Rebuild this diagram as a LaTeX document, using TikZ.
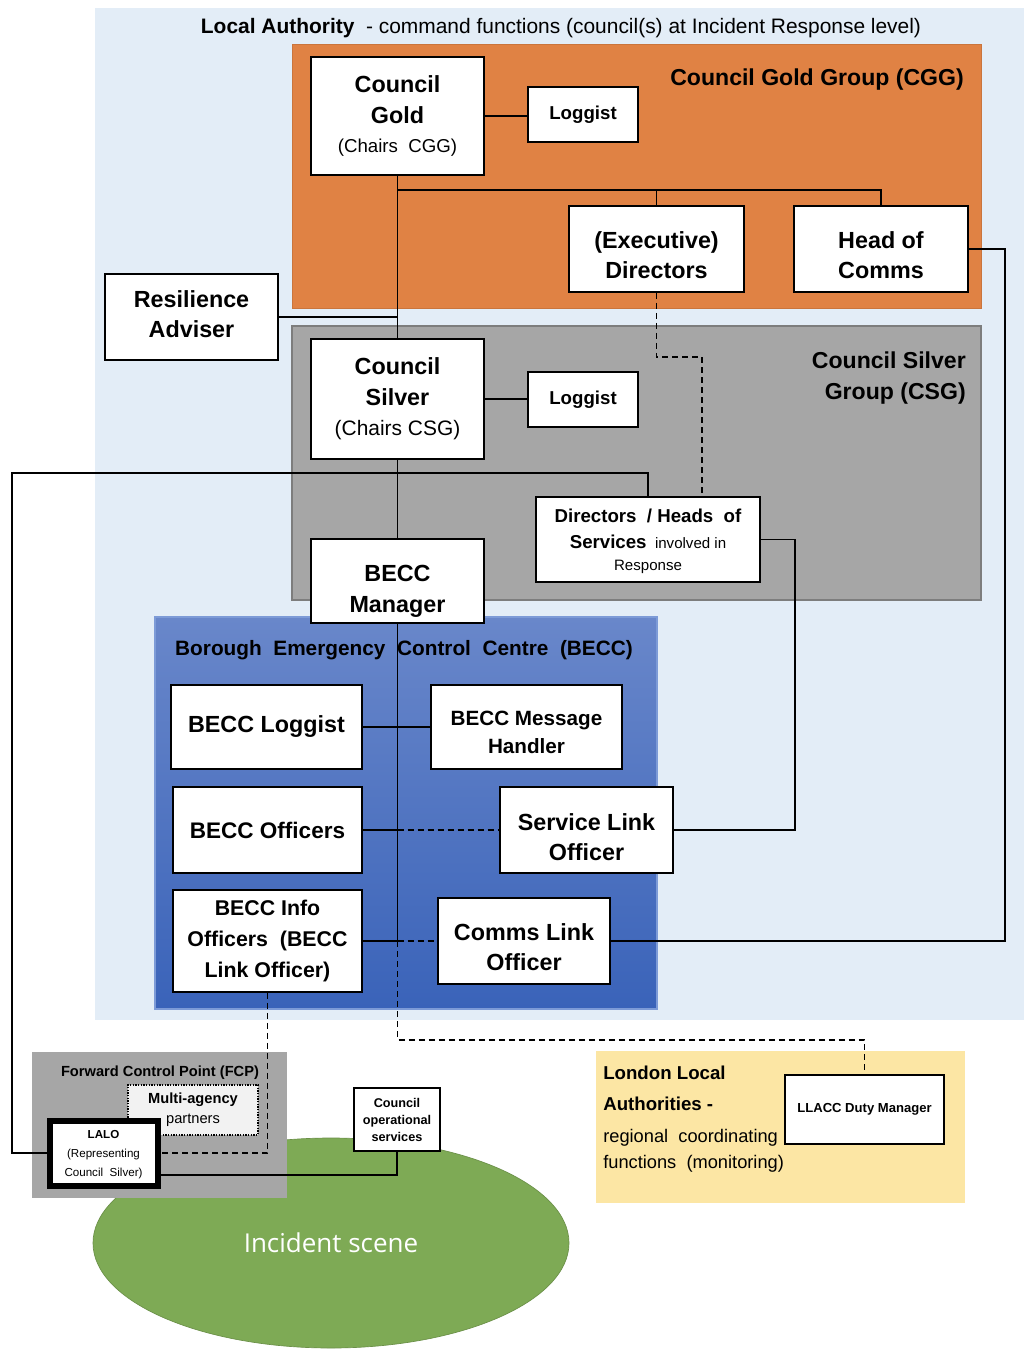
\documentclass[tikz,border=0pt]{standalone}
\usepackage{fontspec}
\setmainfont{Liberation Sans}
\newfontfamily\scenefont{Open Sans}
\usetikzlibrary{shapes.geometric}
\definecolor{labg}{RGB}{227,237,247}
\definecolor{cggc}{RGB}{224,130,68}
\definecolor{csgc}{RGB}{166,166,166}
\definecolor{becct}{RGB}{105,135,202}
\definecolor{beccb}{RGB}{58,99,185}
\definecolor{beccl}{RGB}{125,155,215}
\definecolor{scenec}{RGB}{126,170,85}
\definecolor{llbg}{RGB}{252,230,164}
\definecolor{multibg}{RGB}{242,242,242}
\newcommand\tpad[1]{\rule{0pt}{#1}}
\newcommand\bpad[1]{\rule[-#1]{0pt}{#1}}
\begin{document}
\begin{tikzpicture}[x=0.75pt,y=-0.75pt,
 bx/.style={draw=black, line width=1.3pt, fill=white, align=center, inner sep=0pt},
 wh/.style 2 args={minimum width=#1*0.75pt, minimum height=#2*0.75pt},
 big/.style={font=\bfseries\fontsize{17.5}{23}\selectfont},
 ln/.style={draw=black, line width=1.1pt},
 dl/.style={ln, dash pattern=on 4.5pt off 3pt},
 lbl/.style={inner sep=0pt},
]
\useasboundingbox (0,0) rectangle (1024,1349);
\fill[white] (0,0) rectangle (1024,1349);
% group backgrounds
\fill[labg] (95,8) rectangle (1024,1020);
\filldraw[fill=cggc, draw=cggc!90!black, line width=0.6pt] (292,44) rectangle (981,308);
\filldraw[fill=csgc, draw=csgc!75!black, line width=0.8pt] (292,326) rectangle (981,600);
\shade[top color=becct, bottom color=beccb] (155,617) rectangle (657,1009);
\draw[beccl, line width=1pt] (155,617) rectangle (657,1009);
\fill[llbg] (596,1051) rectangle (965,1203);
\node[ellipse, fill=scenec, draw=scenec!85!black, line width=0.5pt, wh={476}{210}, text=white,
  font=\scenefont\fontsize{19.5}{24}\selectfont] (scene) at (331,1243) {Incident scene};
\fill[csgc] (32,1052) rectangle (287,1198);

% labels
\node[lbl, font=\fontsize{15.7}{19}\selectfont] (latitle) at (561,28.5)
  {\textbf{Local Authority}~~- command functions (council(s) at Incident Response level)};
\node[lbl, anchor=east, font=\bfseries\fontsize{17.3}{23}\selectfont] (cggl) at (964,80) {Council Gold Group (CGG)};
\node[lbl, anchor=east, align=right, font=\bfseries\fontsize{17.3}{23}\selectfont] (csgl) at (966,378) {Council Silver\\Group (CSG)};
\node[lbl, font=\bfseries\fontsize{15.6}{19}\selectfont] (beccl) at (404,650) {Borough~~Emergency~~Control~~Centre~~(BECC)};
\node[lbl, font=\bfseries\fontsize{11}{14}\selectfont] (fcpl) at (160,1072.5) {Forward Control Point (FCP)};
\node[lbl, anchor=base west, font=\bfseries\fontsize{14}{17}\selectfont] (ll1) at (603,1079) {London Local};
\node[lbl, anchor=base west, font=\bfseries\fontsize{14}{17}\selectfont] (ll2) at (603,1110) {Authorities -};
\node[lbl, anchor=base west, font=\fontsize{13.7}{17}\selectfont] (ll3) at (603,1142) {regional~~coordinating};
\node[lbl, anchor=base west, font=\fontsize{13.7}{17}\selectfont] (ll4) at (603,1168) {functions~~(monitoring)};

% boxes
\node[bx, big, wh={173}{118}] (gold) at (397.5,116) {Council\\Gold\\[-1.5pt]{\mdseries\fontsize{14}{18}\selectfont (Chairs~~CGG)}};
\node[bx, wh={110}{55}, font=\bfseries\fontsize{14}{17}\selectfont] (glog) at (583,114.5) {Loggist};
\node[bx, big, wh={175}{86}] (exec) at (656.5,249) {\tpad{21.8pt}(Executive)\\Directors};
\node[bx, big, wh={174}{86}] (comms) at (881,249) {\tpad{21.8pt}Head of\\Comms};
\node[bx, big, wh={173}{86}] (resil) at (191.5,317) {Resilience\\Adviser\bpad{4.5pt}};
\node[bx, big, wh={173}{120}] (silver) at (397.5,399) {Council\\Silver\\{\mdseries\fontsize{15.7}{20}\selectfont (Chairs CSG)}};
\node[bx, wh={110}{55}, font=\bfseries\fontsize{14}{17}\selectfont] (slog) at (583,399.5) {Loggist};
\node[bx, wh={224}{85}, font=\bfseries\fontsize{14}{19.5}\selectfont] (dirs) at (648,539.5)
  {\tpad{13.5pt}Directors~~/ Heads~~of\\Services{\mdseries\fontsize{11.3}{14}\selectfont~~involved in}\\[-3pt]{\mdseries\fontsize{11.3}{14}\selectfont Response}};
\node[bx, big, wh={173}{84}] (mgr) at (397.5,581) {\tpad{27.8pt}BECC\\Manager};
\node[bx, big, wh={191}{84}] (blog) at (266.5,727) {BECC Loggist};
\node[bx, wh={191}{84}, font=\bfseries\fontsize{15.5}{21}\selectfont] (bmsg) at (526.5,727) {\tpad{18.8pt}BECC Message\\Handler};
\node[bx, wh={189}{86}, font=\bfseries\fontsize{16.9}{23}\selectfont] (boff) at (267.5,830) {BECC Officers};
\node[bx, big, wh={173}{86}] (slo) at (586.5,830) {\tpad{23.3pt}Service Link\\Officer};
\node[bx, wh={189}{102}, font=\bfseries\fontsize{16}{23}\selectfont] (binfo) at (267.5,941) {BECC Info\\Officers~~(BECC\\Link Officer)};
\node[bx, big, wh={172}{86}] (clo) at (524,941) {\tpad{21.8pt}Comms Link\\Officer};
\node[bx, wh={130}{50}, fill=multibg, line width=1.1pt, dash pattern=on 1pt off 1pt, font=\fontsize{11}{15}\selectfont] (multi) at (193,1110) {\textbf{Multi-agency}\\partners};
\node[bx, wh={108}{65}, line width=4.5pt, font=\fontsize{8.7}{14}\selectfont] (lalo) at (103.5,1153) {\tpad{8.5pt}\textbf{LALO}\\(Representing\\Council~~Silver)};
\node[bx, wh={86}{63}, font=\bfseries\fontsize{9.5}{12.75}\selectfont] (cos) at (397,1119.5) {Council\\operational\\services};
\node[bx, wh={159}{69}, font=\bfseries\fontsize{9.8}{12}\selectfont] (llacc) at (864.5,1109.5) {LLACC Duty Manager};

% connectors
\coordinate (j1) at (397.5,190);
\draw[ln] (gold.east) -- (gold.east -| glog.west);
\draw[ln] (gold.south) -- (j1) -| (exec.north);
\draw[ln] (j1) -| (comms.north);
\draw[ln] (j1) -- (silver.north);
\draw[ln] (resil.east) -| (silver.north);
\draw[ln] (silver.east) -- (silver.east -| slog.west);
\draw[ln] (silver.south) -- (mgr.north);
\coordinate (d1) at (702,357);
\draw[dl] (exec.south) |- (d1) -- (d1 |- dirs.north);
\coordinate (l1) at (12,473);
\draw[ln] (dirs.north) |- (l1) |- (lalo.west);
\coordinate (r1) at (795,540);
\draw[ln] (dirs.east) -| (r1 |- slo.east) -- (slo.east);
\coordinate (r2) at (1005,249);
\draw[ln] (comms.east) -| (r2 |- clo.east) -- (clo.east);
\draw[ln] (mgr.south) -- (mgr.south |- binfo.east);
\draw[ln] (blog.east) -- (bmsg.west);
\draw[ln] (boff.east) -- (boff.east -| mgr.south);
\draw[dl] (boff.east -| mgr.south) -- (slo.west);
\draw[ln] (binfo.east) -- (binfo.east -| mgr.south);
\draw[dl] (binfo.east -| mgr.south) -- (clo.west);
\coordinate (b1) at (397.5,1040);
\draw[dl] (binfo.east -| mgr.south) -- (b1) -| (llacc.north);
\draw[dl] (binfo.south) |- (lalo.east);
\draw[ln] ([yshift=-16.5pt]lalo.east) -| (cos.south);
\end{tikzpicture}
\end{document}
